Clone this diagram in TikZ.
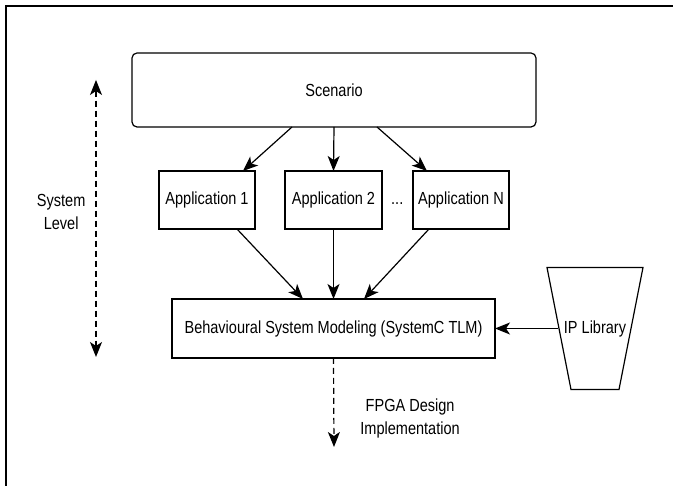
\documentclass[tikz,border=0pt]{standalone}
\usepackage{fontspec}
\setmainfont{Liberation Sans}[FakeStretch=0.83]
\usetikzlibrary{
  arrows.meta,
  calc,
  positioning,
}

\begin{document}
\begin{tikzpicture}[
    x = 1pt,
    y = 1pt,
    line width=1.2pt,
    font=\fontsize{17.5}{23}\selectfont,
    >={Stealth[length=15pt,width=12pt,inset=4pt]},
    n/.style={
      draw, minimum width=96pt, minimum height=58pt,
      inner sep=0pt, outer sep=0pt,
    },
    d/.style={dash pattern=on 6pt off 4pt},
    b/.style={align=center, inner sep=0pt},]
  \useasboundingbox (0,0) rectangle (673,486);
  \draw (6,0) -- (6,480) -- (673,480);
  %%
  \node[n,minimum width=404pt,minimum height=74pt,rounded corners=5pt]
  (Scen) at (334,396) {Scenario};
  \node[n](App1) at (207,286) {Application 1};
  \node[n,minimum width=97pt](App2) at (333.5,286) {Application 2};
  \node[n](AppN) at (461,286) {Application N};
  \node[anchor=base,inner sep=0pt](Dots)
  at ($(App2.base)!.5!(AppN.base)$) {...};
  \node[n,minimum width=323pt,minimum height=59pt]
  (Beh) at (333.5,157.5) {Behavioural System Modeling (SystemC TLM)};
  \node[minimum width=72pt,inner sep=0pt](IP) at (595,157.5) {IP Library};
  \draw ($(IP)+(-48,61)$) -- ($(IP)+(48,61)$) -- ($(IP)+(24,-61)$)
  -- ($(IP)+(-24,-61)$) -- cycle;
  %%
  \draw[->]($(Scen.south)+(-42,0)$) -- ($(App1.north)+(36,0)$);
  \draw[->](Scen.south) -- (App2.north);
  \draw[->]($(Scen.south)+(43,0)$) -- ($(AppN.north)+(-34,0)$);
  %%
  \draw[->]($(App1.south)+(30,0)$) -- ($(Beh.north)+(-30.5,0)$);
  \draw[->](App2.south) -- (Beh.north);
  \draw[->]($(AppN.south)+(-32,0)$) -- ($(Beh.north)+(30.5,0)$);
  %%
  \draw[->](IP.west) -- (Beh.east);
  %%
  \coordinate (Fpga) at (334,39);
  \draw[->,d](Beh.south)
  -- node[b,pos=.676,anchor=west,xshift=26pt]
  {FPGA Design\\Implementation} (Fpga);
  %%
  \coordinate (SysTop) at (96,406);
  \coordinate (SysBot) at (96,129);
  \draw[<->,d](SysTop)
  -- node[b,pos=.476,anchor=east,xshift=-10pt]
  {System\\Level} (SysBot);
\end{tikzpicture}
\end{document}
